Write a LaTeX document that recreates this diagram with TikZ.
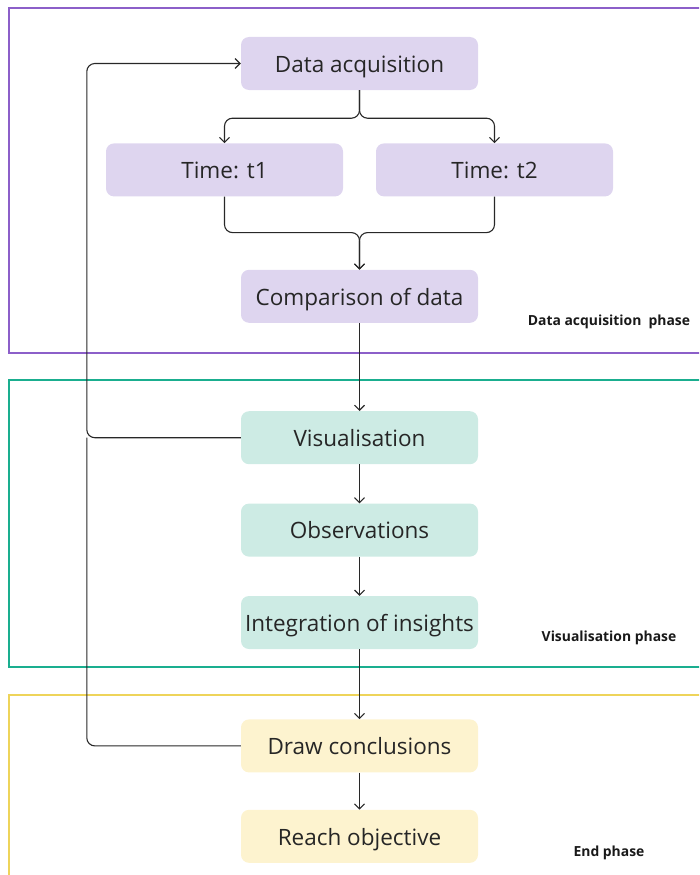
\documentclass[tikz,border=0pt]{standalone}
\usepackage{fontspec}
\setmainfont{Open Sans}
\usetikzlibrary{arrows.meta, positioning}
\definecolor{acqFill} {RGB}{222,213,239}
\definecolor{acqLine} {RGB}{140, 95,201}
\definecolor{visFill} {RGB}{205,235,228}
\definecolor{visLine} {RGB}{ 26,174,143}
\definecolor{endFill} {RGB}{253,243,207}
\definecolor{endLine} {RGB}{238,212, 90}
\definecolor{arrowDark}{RGB}{ 40, 40, 40}
\tikzset{
  stepbox/.style = {rectangle, rounded corners=8pt, fill=#1, draw=none,
                    minimum width=237pt, minimum height=53pt,
                    text height=21.6pt, text depth=4pt,
                    font=\fontsize{22.5}{26}\selectfont, text=black!85},
  arr/.style  = {-{Straight Barb[length=5pt,width=10pt]}, line width=1.1pt,
                 color=arrowDark, rounded corners=8pt},
  lnk/.style  = {line width=1.1pt, color=arrowDark, rounded corners=8pt},
  phase/.style = {draw=#1, line width=1.2pt},
  plbl/.style = {font=\fontsize{13.9}{16}\selectfont\bfseries, text=black!90},
}

\begin{document}
\begin{tikzpicture}[x=1pt, y=-1pt]
\useasboundingbox (0,0) rectangle (699,875);

% ---- Phase frames -----------------------------------------------------------
\begin{scope}
  \clip (0,0) rectangle (699,875);
  \draw[phase=acqLine] (9,8)   rectangle (720,353);
  \draw[phase=visLine] (9,380) rectangle (720,667);
  \draw[phase=endLine] (9,695) rectangle (720,900);
\end{scope}

% ---- Data acquisition phase -------------------------------------------------
\node[stepbox=acqFill] (dacq) at (359.5,63.5) {Data acquisition};
\node[stepbox=acqFill, below=53pt of dacq, xshift=-135pt] (tone) {Time: t1};
\node[stepbox=acqFill, below=53pt of dacq, xshift=135pt]  (ttwo) {Time: t2};
\node[stepbox=acqFill, below=73pt of tone, xshift=135pt]  (comp) {Comparison of data};

% ---- Visualisation phase ----------------------------------------------------
\node[stepbox=visFill, below=88pt of comp] (vis)   {Visualisation};
\node[stepbox=visFill, below=39pt of vis]  (obs)   {Observations};
\node[stepbox=visFill, below=39pt of obs]  (integ) {Integration of insights};

% ---- End phase --------------------------------------------------------------
\node[stepbox=endFill, below=70pt of integ] (concl) {Draw conclusions};
\node[stepbox=endFill, below=37pt of concl] (reach) {Reach objective};

% ---- Phase labels -----------------------------------------------------------
\node[plbl] (lacq) at (609,322) {Data acquisition\ \ phase};
\node[plbl] (lvis) at (609,638) {Visualisation phase};
\node[plbl] (lend) at (609,853) {End phase};

% ---- Arrows: split and merge ------------------------------------------------
\coordinate[below=28pt of dacq.south] (split);
\coordinate[above=37pt of comp.north] (merge);
\draw[arr] (dacq.south) -- (split) -| (tone.north);
\draw[arr] (dacq.south) -- (split) -| (ttwo.north);
\draw[arr] (tone.south) |- (merge) -- (comp.north);
\draw[arr] (ttwo.south) |- (merge) -- (comp.north);

% ---- Arrows: main chain -----------------------------------------------------
\draw[arr] (comp)  -- (vis);
\draw[arr] (vis)   -- (obs);
\draw[arr] (obs)   -- (integ);
\draw[arr] (integ) -- (concl);
\draw[arr] (concl) -- (reach);

% ---- Feedback loop ----------------------------------------------------------
\draw[arr] (vis.west) -| ([xshift=-154pt]dacq.west) -- (dacq.west);
\draw[lnk] (concl.west) -| ([xshift=-154pt]vis.west);

\end{tikzpicture}
\end{document}
